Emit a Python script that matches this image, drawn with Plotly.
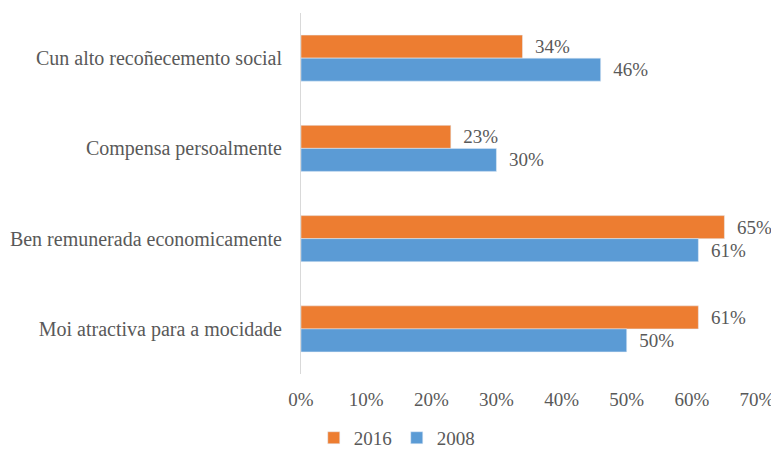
import plotly.graph_objects as go

categories = [
    "Cun alto recoñecemento social",
    "Compensa persoalmente",
    "Ben remunerada economicamente",
    "Moi atractiva para a mocidade",
]
values_2016 = [34, 23, 65, 61]
values_2008 = [46, 30, 61, 50]
tick_vals = [0, 10, 20, 30, 40, 50, 60, 70]

FONT = "Liberation Serif, Liberation Sans, sans-serif"
TXT = "#595959"
SIZE = 20

fig = go.Figure()
fig.add_trace(go.Bar(
    y=categories, x=values_2016, name="2016", orientation="h",
    marker_color="#ED7D31",
    text=[f"  {v}%" for v in values_2016], textposition="outside",
    textfont=dict(family=FONT, size=SIZE - 1, color=TXT),
    cliponaxis=False,
))
fig.add_trace(go.Bar(
    y=categories, x=values_2008, name="2008", orientation="h",
    marker_color="#5B9BD5",
    text=[f"  {v}%" for v in values_2008], textposition="outside",
    textfont=dict(family=FONT, size=SIZE - 1, color=TXT),
    cliponaxis=False,
))

fig.update_xaxes(
    range=[0, 70], tickvals=tick_vals, ticktext=[f"{t}%" for t in tick_vals],
    showgrid=False, zeroline=False, showline=False,
    tickfont=dict(family=FONT, size=SIZE - 1, color=TXT), ticks="",
    ticklabelstandoff=12,
)
fig.update_yaxes(
    autorange="reversed", showgrid=False, showline=True, linecolor="#D9D9D9",
    linewidth=1, ticks="", ticklabelstandoff=14,
    tickfont=dict(family=FONT, size=SIZE, color=TXT),
)
# page body has an 8px margin, so the figure is shifted by 8px
fig.update_layout(
    width=771, height=442,
    barmode="group", bargap=0.49, bargroupgap=0,
    plot_bgcolor="white", paper_bgcolor="white",
    font=dict(family=FONT, color=TXT),
    margin=dict(l=293, r=22, t=5, b=76, autoexpand=False),
    showlegend=True,
    legend=dict(
        orientation="h",
        x=0.21, y=-0.177, xanchor="center", yanchor="middle",
        font=dict(family=FONT, size=SIZE - 1, color=TXT),
    ),
)
fig.write_html("out.html")
